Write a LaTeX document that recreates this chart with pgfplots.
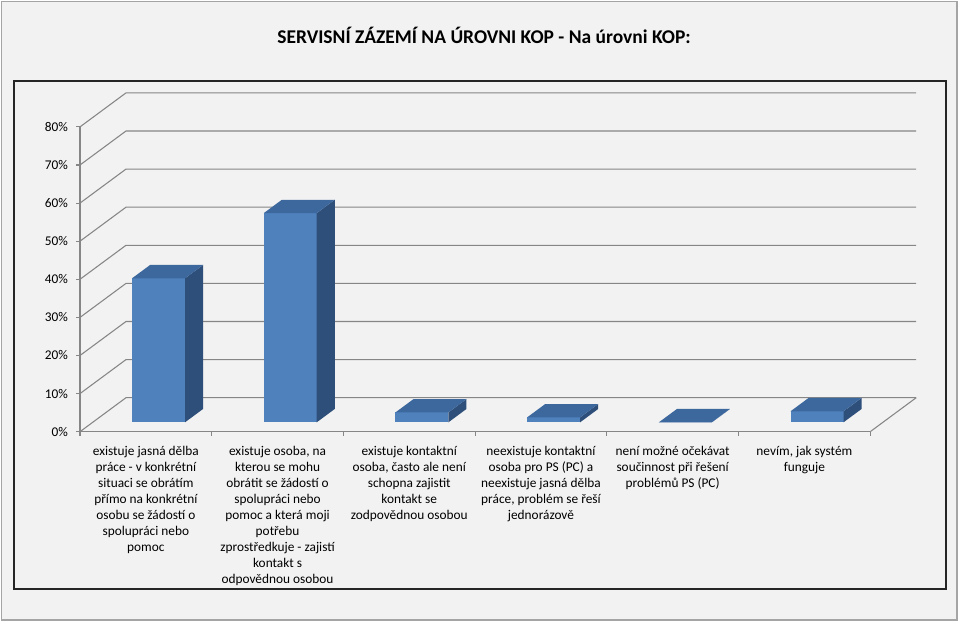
\documentclass[border=0pt]{standalone}
\usepackage{pgfplots}
\pgfplotsset{compat=1.18}
\usepackage{fontspec}
\setmainfont{Carlito}
\definecolor{bg}{RGB}{242,242,242}
\definecolor{gridgray}{RGB}{134,134,134}
\definecolor{barfront}{RGB}{79,129,189}
\definecolor{bartop}{RGB}{61,104,158}
\definecolor{barside}{RGB}{46,79,121}
\definecolor{framegray}{RGB}{165,165,165}
\definecolor{innerframe}{RGB}{38,38,38}

% one 3-D column: #1 = category position, #2 = value in %
\newcommand\ThreeDBar[2]{%
  \pgfmathsetmacro\xl{#1-0.201}%
  \pgfmathsetmacro\xr{#1+0.201}%
  \edef\temp{%
    \noexpand\addplot3[draw=none, fill=barfront] coordinates {(\xl,0.276,0) (\xr,0.276,0) (\xr,0.276,#2) (\xl,0.276,#2)} -- cycle;
    \noexpand\addplot3[draw=none, fill=barside] coordinates {(\xr,0.276,0) (\xr,0.668,0) (\xr,0.668,#2) (\xr,0.276,#2)} -- cycle;
    \noexpand\addplot3[draw=none, fill=bartop] coordinates {(\xl,0.276,#2) (\xr,0.276,#2) (\xr,0.668,#2) (\xl,0.668,#2)} -- cycle;
  }\temp}

\begin{document}
\begin{tikzpicture}
\useasboundingbox (0,0) rectangle (720pt,467.25pt);
\fill[white] (0,0) rectangle (720pt,467.25pt);
\draw[framegray, fill=bg, line width=1.1pt] (1.3pt,2.2pt) rectangle (717.6pt,466pt);
\draw[innerframe, line width=1.1pt] (10.5pt,25.5pt) rectangle (709.5pt,406.5pt);
\node[font=\fontsize{14.6}{16}\selectfont\bfseries, anchor=base] at (363pt,434.3pt) {SERVISNÍ ZÁZEMÍ NA ÚROVNI KOP - Na úrovni KOP:};

% 3-D part: walls, gridlines, columns
\begin{axis}[
  at={(109.39pt,143.475pt)}, anchor=origin,
  x={(98.775pt,0pt)}, y={(34.5pt,25.5pt)}, z={(0pt,2.8575pt)},
  xmin=-0.5, xmax=5.5, ymin=0, ymax=1, zmin=0, zmax=80,
  hide axis, clip=false,
]
\pgfplotsinvokeforeach{0,10,...,80}{
  \addplot3[draw=gridgray, line width=0.8pt, mark=none, forget plot] coordinates {(-0.5,0,#1) (-0.5,1,#1) (5.5,1,#1)};
}
\addplot3[draw=gridgray, line width=0.8pt, mark=none, forget plot] coordinates {(5.5,0,0) (5.5,1,0)};
\ThreeDBar{0}{37.8}
\ThreeDBar{1}{54.9}
\ThreeDBar{2}{2.6}
\ThreeDBar{3}{1.3}
\ThreeDBar{4}{0}
\ThreeDBar{5}{2.9}
\end{axis}

% front axes: ticks and labels
\begin{axis}[
  at={(109.39pt,143.475pt)}, anchor=origin,
  x={(98.775pt,0pt)}, y={(0pt,2.8575pt)},
  xmin=-0.5, xmax=5.5, ymin=0, ymax=80,
  axis x line*=bottom, axis y line*=left,
  axis line style={draw=gridgray, line width=0.8pt},
  tick style={draw=gridgray, line width=0.8pt},
  tick align=outside, major tick length=3pt,
  ytick={0,10,...,80},
  yticklabel={\pgfmathprintnumber{\tick}\%},
  /pgf/number format/assume math mode=true,
  yticklabel style={font=\fontsize{10}{12}\selectfont, anchor=east, xshift=-2.5pt},
  xtick={-0.5,0.5,...,5.5},
  xticklabels={
    {existuje jasná dělba\\práce - v konkrétní\\situaci se obrátím\\přímo na konkrétní\\osobu se žádostí o\\spolupráci nebo\\pomoc},
    {existuje osoba, na\\kterou se mohu\\obrátit se žádostí o\\spolupráci nebo\\pomoc a která moji\\potřebu\\zprostředkuje - zajistí\\kontakt s\\odpovědnou osobou},
    {existuje kontaktní\\osoba, často ale není\\schopna zajistit\\kontakt se\\zodpovědnou osobou},
    {neexistuje kontaktní\\osoba pro PS (PC) a\\neexistuje jasná dělba\\práce, problém se řeší\\jednorázově},
    {není možné očekávat\\součinnost při řešení\\problémů PS (PC)},
    {nevím, jak systém\\funguje},
    {}},
  xticklabel style={font=\fontsize{10}{12}\selectfont, align=center, anchor=north, xshift=49.39pt, yshift=-4.3pt},
]
\end{axis}
\end{tikzpicture}
\end{document}
